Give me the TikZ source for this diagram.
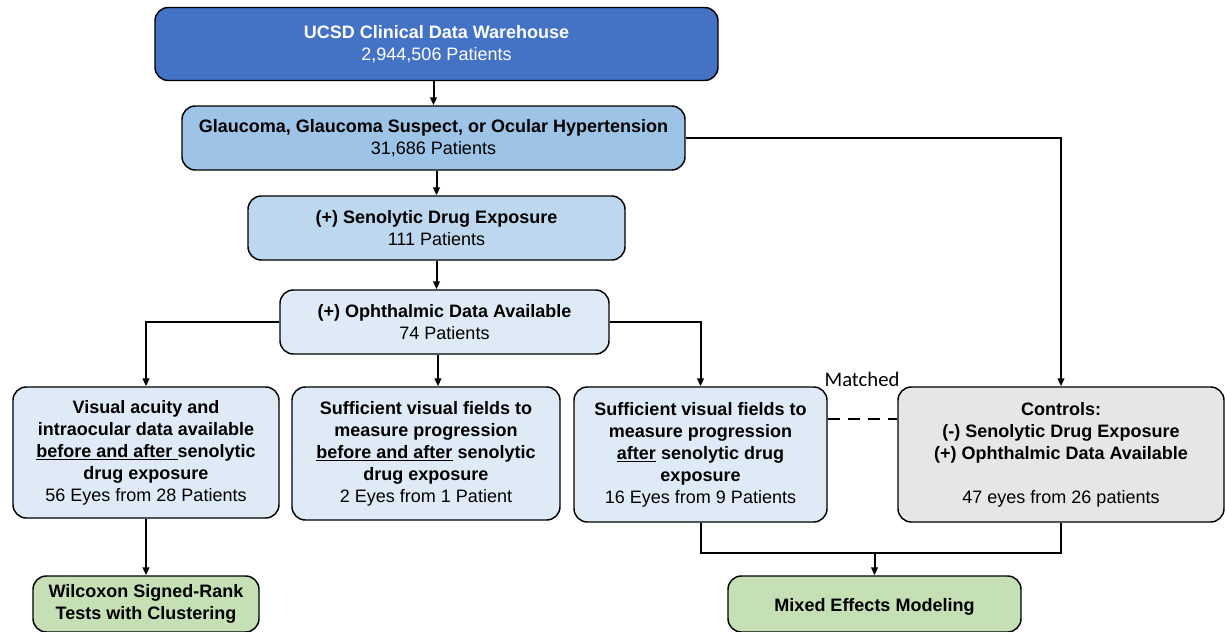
\documentclass[tikz,border=0pt]{standalone}
\usepackage{fontspec}
\setmainfont{Liberation Sans}
\newfontfamily\calib{Carlito}
\usetikzlibrary{arrows.meta,calc}
\definecolor{cdark}{HTML}{4472C4}
\definecolor{cmid}{HTML}{9DC3E6}
\definecolor{clight}{HTML}{BDD7EE}
\definecolor{cpale}{HTML}{DEEBF7}
\definecolor{cgray}{HTML}{E7E6E6}
\definecolor{cgreen}{HTML}{C5E0B4}
\tikzset{
  box/.style={draw=black, line width=1.1pt, rounded corners=10pt, align=center,
    font=\fontsize{13.5}{16.5}\selectfont, inner sep=2pt,
    execute at begin node={\rule{0pt}{14pt}}},
  conn/.style={line width=1.5pt, draw=black},
  arr/.style={conn, -{Triangle[length=6pt,width=5pt]}}
}
\begin{document}
\begin{tikzpicture}[x=0.75pt,y=-0.75pt]
\useasboundingbox (0,0) rectangle (1225,632);
\node[box, fill=cdark, text=white, minimum width=422.25pt, minimum height=54.75pt] (B1) at (436.5,44)
  {\textbf{UCSD Clinical Data Warehouse}\\2,944,506 Patients};
\node[box, fill=cmid, minimum width=377.25pt, minimum height=48pt] (B2) at (433.5,138)
  {\textbf{Glaucoma, Glaucoma Suspect, or Ocular Hypertension}\\31,686 Patients};
\node[box, fill=clight, minimum width=282.75pt, minimum height=48pt] (B3) at (436.5,228)
  {\textbf{(+) Senolytic Drug Exposure}\\111 Patients};
\node[box, fill=cpale, minimum width=246.75pt, minimum height=48pt] (B4) at (444.5,322)
  {\textbf{(+) Ophthalmic Data Available}\\74 Patients};
\node[box, fill=cpale, minimum width=199.5pt, minimum height=98.25pt] (B5) at (146,452.5)
  {\textbf{Visual acuity and}\\\textbf{intraocular data available}\\\textbf{\underline{before and after\ }senolytic}\\\textbf{drug exposure}\\56 Eyes from 28 Patients};
\node[box, fill=cpale, minimum width=201pt, minimum height=99.75pt] (B6) at (426,453.5)
  {\textbf{Sufficient visual fields to}\\\textbf{measure progression}\\\textbf{\underline{before and after} senolytic}\\\textbf{drug exposure}\\2 Eyes from 1 Patient};
\node[box, fill=cpale, minimum width=189.75pt, minimum height=101.25pt] (B7) at (700.5,454.5)
  {\textbf{Sufficient visual fields to}\\\textbf{measure progression}\\\textbf{\underline{after} senolytic drug}\\\textbf{exposure}\\16 Eyes from 9 Patients};
\node[box, fill=cgray, minimum width=244.5pt, minimum height=101.25pt] (B8) at (1061,454.5)
  {\textbf{Controls:}\\\textbf{(-) Senolytic Drug Exposure}\\\textbf{(+) Ophthalmic Data Available}\\[16.5pt]47 eyes from 26 patients};
\node[box, fill=cgreen, minimum width=169.5pt, minimum height=42pt] (B9) at (146,604)
  {\textbf{Wilcoxon Signed-Rank}\\\textbf{Tests with Clustering}};
\node[box, fill=cgreen, minimum width=219.75pt, minimum height=42pt] (B10) at (874.5,604)
  {\textbf{Mixed Effects Modeling}};
\node[font=\calib\fontsize{15.5}{17}\selectfont] (M) at (862,379) {Matched};
% connectors
\draw[arr] (B2.north |- B1.south) -- (B2.north);
\draw[arr] (B3.north |- B2.south) -- (B3.north);
\draw[arr] (B3.south) -- (B3.south |- B4.north);
\draw[arr] (B2.east) -| (B8.north);
\draw[arr] (B4.west) -| (B5.north);
\draw[arr] ([xshift=-4.9pt]B4.south) -- ([xshift=-4.9pt]B4.south |- B6.north);
\draw[arr] (B4.east) -| (B7.north);
\draw[conn, dash pattern=on 9pt off 6pt] ([yshift=27pt]B7.east) -- ([yshift=27pt]B8.west);
\draw[arr] (B5.south) -- (B9.north);
\coordinate (J) at (700.5,553);
\draw[conn] (B7.south) -- (J) -| (B8.south);
\draw[arr] (B10.north |- J) -- (B10.north);
\end{tikzpicture}
\end{document}
